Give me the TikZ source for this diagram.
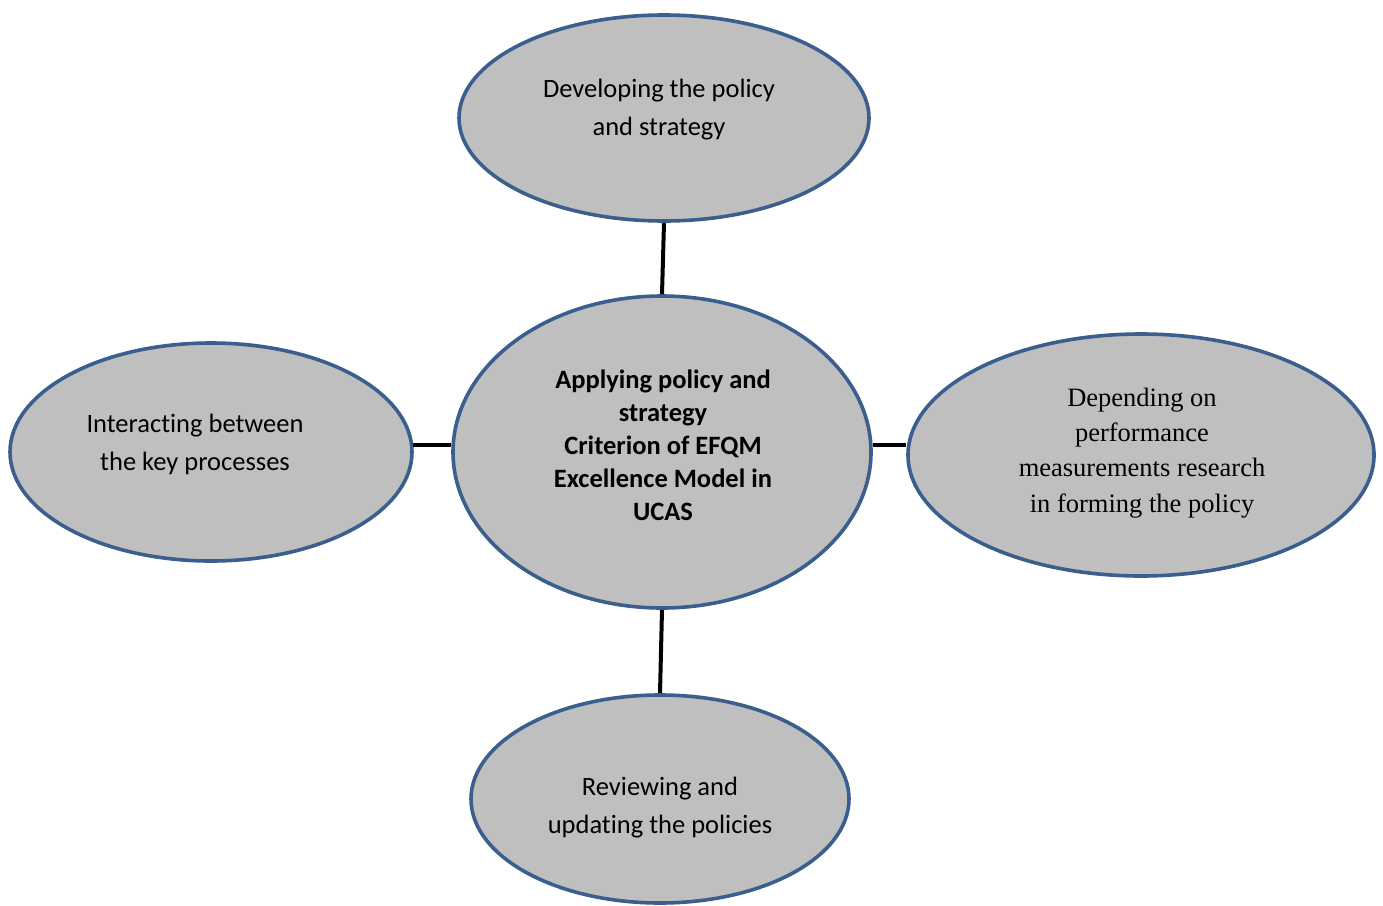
\documentclass[tikz,border=0pt]{standalone}
\usepackage{fontspec}
\setmainfont{Carlito}[RawFeature={-liga;-clig;-calt;-dlig}]
\newfontfamily\timesfont{Liberation Serif}
\usetikzlibrary{shapes.geometric}
\definecolor{ringblue}{HTML}{3A5F8F}
\definecolor{ovalgray}{HTML}{BFBFBF}
\tikzset{
  oval/.style={ellipse, draw=ringblue, line width=3.6pt, fill=ovalgray, inner sep=0pt},
  label/.style={align=center, font=\fontsize{26.5}{38}\selectfont},
  link/.style={line width=4pt, black}
}
\begin{document}
\begin{tikzpicture}[x=1pt,y=-1pt]
\useasboundingbox (0,0) rectangle (1383,905);
\node[oval, minimum width=410pt, minimum height=206pt] (top) at (664,118) {};
\node[oval, minimum width=418pt, minimum height=312pt] (mid) at (662,452) {};
\node[oval, minimum width=402pt, minimum height=218pt] (left) at (211,452) {};
\node[oval, minimum width=466pt, minimum height=242pt] (right) at (1141,455) {};
\node[oval, minimum width=378pt, minimum height=208pt] (bot) at (660,799) {};
\draw[link] (top.south) -- (mid.north);
\draw[link] (mid.south) -- (bot.north);
\draw[link] (left.2.6) -- (left.2.6 -| mid.west);
\draw[link] (mid.2.7) -- (mid.2.7 -| right.west);
\node[label] (toptext) at (659,110) {Developing the policy\\and strategy};
\node[label, font=\bfseries\fontsize{26.5}{33}\selectfont] (midtext) at (663,445) {Applying policy and\\strategy\\Criterion of EFQM\\Excellence Model in\\UCAS};
\node[label] (lefttext) at (195,444) {Interacting between\\the key processes};
\node[label, font=\timesfont\fontsize{26.5}{35.3}\selectfont] (righttext) at (1142,453) {Depending on\\performance\\measurements research\\in forming the policy};
\node[label] (bottext) at (660,808) {Reviewing and\\updating the policies};
\end{tikzpicture}
\end{document}
